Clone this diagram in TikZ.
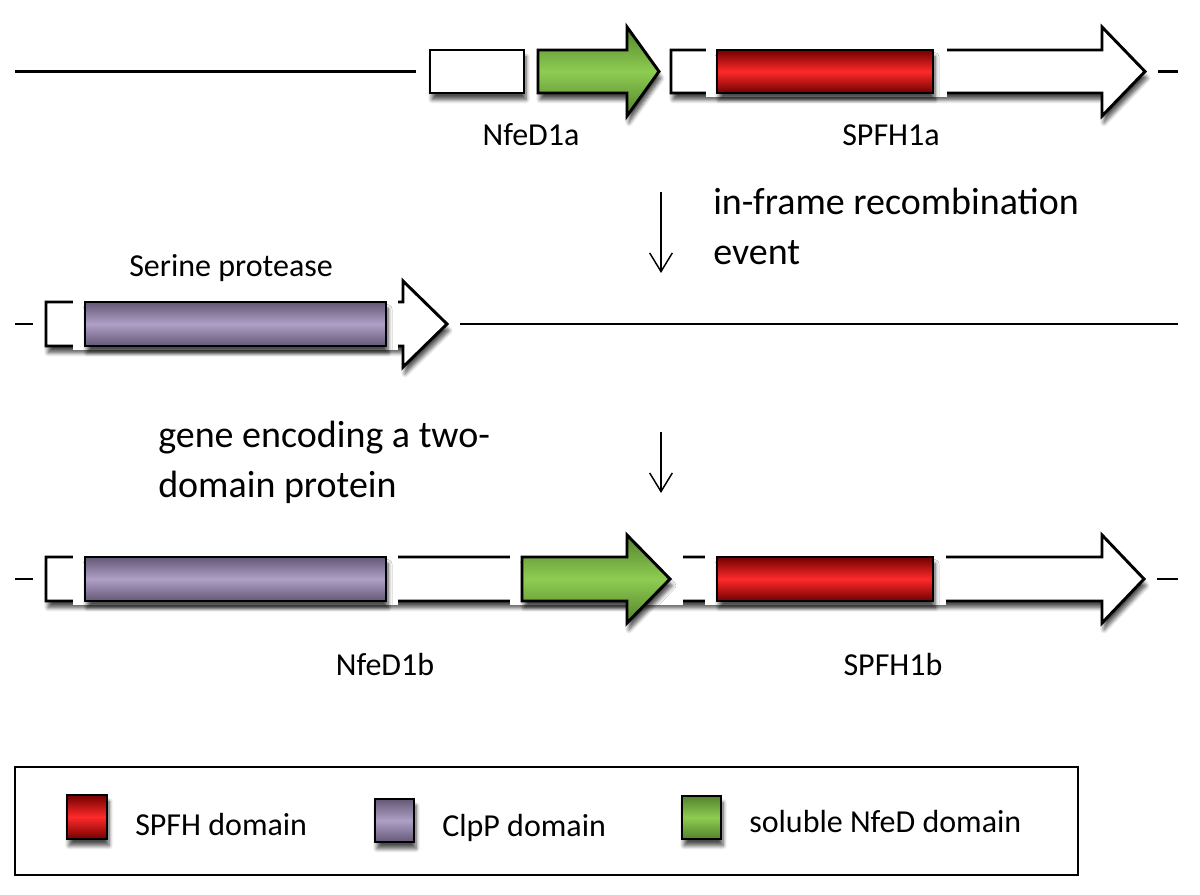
\documentclass[tikz,border=0pt]{standalone}
\usepackage{fontspec}
\setmainfont{Carlito}
\usetikzlibrary{shadows.blur,arrows.meta}
\tikzset{
  px/.style={x=0.75pt,y=-0.75pt},
  gene/.style={draw=black,line width=2.2pt,fill=white,line join=miter},
  shad/.style={blur shadow={shadow xshift=1.5pt,shadow yshift=-5pt,shadow blur steps=6,shadow blur radius=3pt,shadow opacity=70}},
  halo/.style={fill=white,draw=none},
  redshade/.style={top color=red!45!black,bottom color=red!45!black,middle color={rgb,255:red,255;green,42;blue,42}},
  purpleshade/.style={top color={rgb,255:red,100;green,88;blue,118},bottom color={rgb,255:red,100;green,88;blue,118},middle color={rgb,255:red,174;green,160;blue,198}},
  greenshade/.style={top color={rgb,255:red,84;green,130;blue,44},bottom color={rgb,255:red,84;green,130;blue,44},middle color={rgb,255:red,142;green,204;blue,82}},
  dnaline/.style={draw=black,line width=1.6pt},
  lbl/.style={font=\fontsize{24}{29}\selectfont,inner sep=0pt},
  big/.style={font=\fontsize{28.5}{37.5}\selectfont,inner sep=0pt,align=left},
  evt/.style={draw=black,line width=1.1pt,-{Straight Barb[length=14pt,width=17pt,line width=1.1pt]}},
}
\begin{document}
\begin{tikzpicture}[px]
\useasboundingbox (0,0) rectangle (1200,895);
% ---------- Row 1 ----------
\draw[dnaline] (15,71.5) -- (416,71.5);
\draw[gene,shad] (430,50) rectangle (524,93);
\draw[gene,shad,greenshade] (538,50) -- (627,50) -- (627,27) -- (659,71.5) -- (627,116) -- (627,93) -- (538,93) -- cycle;
\draw[gene,shad] (671,50) -- (1102,50) -- (1102,27) -- (1145,71.5) -- (1102,116) -- (1102,93) -- (671,93) -- cycle;
\fill[halo] (706,46) rectangle (947,97);
\draw[gene,shad,redshade] (717,50) rectangle (933,93);
\draw[dnaline] (1158,71.5) -- (1178,71.5);
\node[lbl] (nfed1a) at (531,135) {NfeD1a};
\node[lbl] (spfh1a) at (891,135) {SPFH1a};
% arrow 1
\coordinate (a1s) at (661,192);
\coordinate (a1e) at (661,273);
\draw[evt] (a1s) -- (a1e);
\node[big,anchor=north west] (recomb) at (713,188) {in-frame recombination\\event};
% ---------- Row 2 ----------
\draw[dnaline] (15,324) -- (33,324);
\draw[gene,shad] (46,302) -- (403,302) -- (403,281) -- (447,324) -- (403,367) -- (403,346) -- (46,346) -- cycle;
\fill[halo] (73,298) rectangle (398,350);
\draw[gene,shad,purpleshade] (85,302) rectangle (386,346);
\draw[dnaline] (460,324) -- (1178,324);
\node[lbl] (serine) at (231,268) {Serine protease};
% arrow 2
\coordinate (a2s) at (661,432);
\coordinate (a2e) at (661,493);
\draw[evt] (a2s) -- (a2e);
\node[big,anchor=north west] (gene) at (158,421) {gene encoding a two-\\domain protein};
% ---------- Row 3 ----------
\draw[dnaline] (15,579) -- (33,579);
\draw[gene,shad] (46,557) -- (1102,557) -- (1102,535) -- (1144,579) -- (1102,623) -- (1102,601) -- (46,601) -- cycle;
\fill[halo] (73,553) rectangle (398,605);
\fill[halo] (510,553) rectangle (683,605);
\fill[halo] (705,553) rectangle (946,605);
\draw[gene,shad,purpleshade] (85,557) rectangle (386,601);
\draw[gene,shad,greenshade] (522,557) -- (627,557) -- (627,535) -- (670,579) -- (627,623) -- (627,601) -- (522,601) -- cycle;
\draw[gene,shad,redshade] (717,557) rectangle (933,601);
\draw[dnaline] (1157,579) -- (1178,579);
\node[lbl] (nfed1b) at (385,664) {NfeD1b};
\node[lbl] (spfh1b) at (893,664) {SPFH1b};
% ---------- Legend ----------
\draw[line width=1.8pt] (15,767) rectangle (1078,875);
\draw[gene,shad,redshade] (67,795) rectangle (107,839);
\node[lbl,anchor=base west] (lspfh) at (135,835) {SPFH domain};
\draw[gene,shad,purpleshade] (375,799) rectangle (414,842);
\node[lbl,anchor=base west] (lclpp) at (442,836) {ClpP domain};
\draw[gene,shad,greenshade] (682,796) rectangle (721,839);
\node[lbl,anchor=base west] (lnfed) at (749,832) {soluble NfeD domain};
\end{tikzpicture}
\end{document}
